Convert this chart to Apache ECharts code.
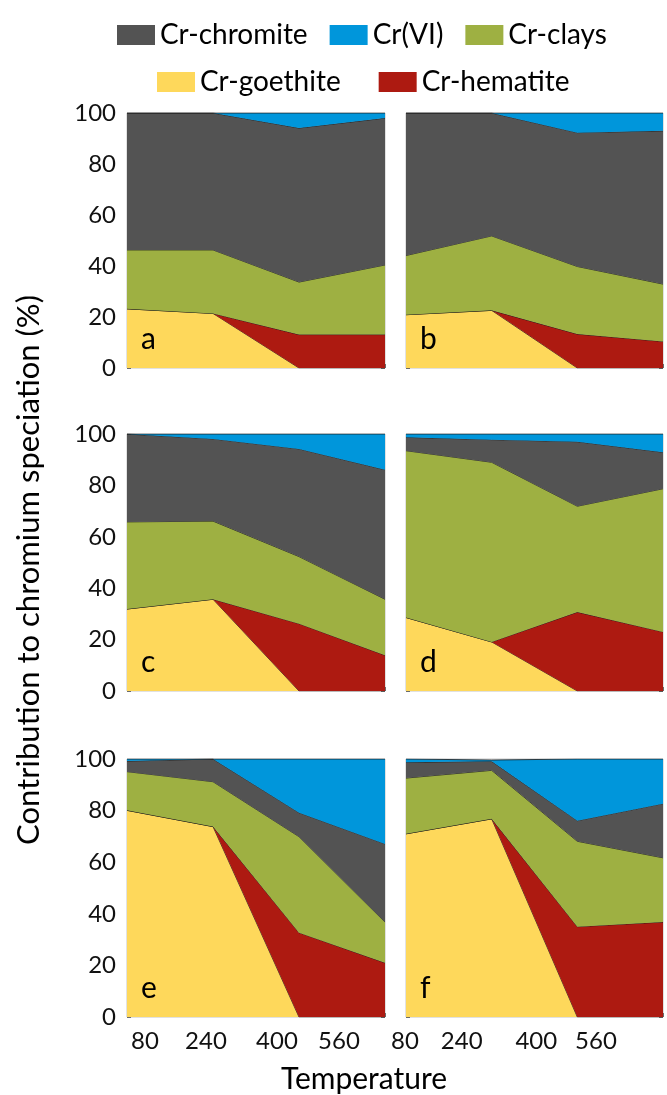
<!DOCTYPE html>
<html><head><meta charset="utf-8">
<script src="https://cdn.jsdelivr.net/npm/echarts@6/dist/echarts.min.js"></script>
<style>html,body{margin:0;padding:0;background:#fff}#c{width:667px;height:1095px}</style>
</head><body><div id="c"></div>
<script>
// ---- data ----
const temperatures = [80, 240, 400, 560];
const panelLabels = ['a', 'b', 'c', 'd', 'e', 'f'];
const yTickValues = [0, 20, 40, 60, 80, 100];
const xAxisTitle = 'Temperature';
const yAxisTitle = 'Contribution to chromium speciation (%)';

// each array: one row per panel (a..f), values at 80, 240, 400, 560
const crGoethite = [
  [23.2, 21.4, 0, 0],
  [20.9, 22.6, 0, 0],
  [31.9, 35.7, 0, 0],
  [28.6, 19.1, 0, 0],
  [80.1, 73.8, 0, 0],
  [71.0, 76.8, 0, 0]
];
const crHematite = [
  [0, 0, 13.1, 13.1],
  [0, 0, 13.3, 10.4],
  [0, 0, 26.2, 13.9],
  [0, 0, 30.7, 23.0],
  [0, 0, 32.7, 21.0],
  [0, 0, 35.0, 36.8]
];
const crClays = [
  [23.1, 24.9, 20.6, 27.3],
  [23.2, 29.2, 26.5, 22.5],
  [33.9, 30.4, 26.1, 21.8],
  [64.9, 69.9, 41.2, 55.7],
  [15.0, 17.4, 37.2, 15.8],
  [21.6, 18.8, 33.1, 24.9]
];
const crChromite = [
  [53.7, 53.7, 60.4, 57.6],
  [55.9, 48.2, 52.5, 60.1],
  [34.2, 32.0, 41.9, 50.4],
  [5.2, 8.8, 25.1, 14.2],
  [4.1, 8.8, 9.3, 30.3],
  [6.1, 3.5, 8.0, 21.0]
];
const crVI = [
  [0, 0, 5.9, 2.0],
  [0, 0, 7.7, 7.0],
  [0, 1.9, 5.8, 13.9],
  [1.3, 2.2, 3.0, 7.1],
  [0.8, 0, 20.8, 32.9],
  [1.3, 0.5, 23.9, 17.3]
];

// ---- styling ----
const FONT = 'Lato';
const seriesDefs = [
  { name: 'Cr-goethite', data: crGoethite, color: '#FED85B' },
  { name: 'Cr-hematite', data: crHematite, color: '#AD1A11' },
  { name: 'Cr-clays', data: crClays, color: '#9EB042' },
  { name: 'Cr-chromite', data: crChromite, color: '#535353' },
  { name: 'Cr(VI)', data: crVI, color: '#0096DB' }
];
const colorOf = {};
seriesDefs.forEach(s => colorOf[s.name] = s.color);

const gridLeft = [127, 406];
const gridWidth = [258, 257];
const gridTop = [113, 434, 759];
const gridHeight = [255, 257, 258];
// horizontal shift (px) of each x tick label, per column
const labelShift = [[18, -7, -22, -46], [-1, -30, -41, -67]];

const grids = [], xAxes = [], yAxes = [], series = [], graphics = [];
for (let k = 0; k < 6; k++) {
  const col = k % 2, row = Math.floor(k / 2);
  grids.push({
    left: gridLeft[col], top: gridTop[row], width: gridWidth[col], height: gridHeight[row],
    show: true, borderColor: '#c4c4c4', borderWidth: 1, backgroundColor: 'transparent'
  });
  const rich = {};
  labelShift[col].forEach((s, i) => {
    rich['s' + i] = {
      fontFamily: FONT, fontSize: 24, color: '#111',
      padding: s >= 0 ? [0, 0, 0, 2 * s] : [0, -2 * s, 0, 0]
    };
  });
  const tickStyle = { show: true, inside: true, length: 4, lineStyle: { color: '#6a6a6a', width: 1 } };
  // bottom: value axis used for ticks and temperature labels
  xAxes.push({
    type: 'value', gridIndex: k, min: 80, max: 560, interval: 80, position: 'bottom',
    axisLine: { show: false }, splitLine: { show: false }, axisTick: tickStyle,
    axisLabel: {
      show: row === 2, margin: 12, color: '#111', fontFamily: FONT, fontSize: 24,
      showMinLabel: true, showMaxLabel: true, hideOverlap: false,
      formatter: v => { const i = temperatures.indexOf(v); return i < 0 ? '' : '{s' + i + '|' + v + '}'; },
      rich: rich
    }
  });
  // top: category axis carrying the data
  xAxes.push({
    type: 'category', gridIndex: k, position: 'top', boundaryGap: false,
    data: temperatures.map(String),
    axisLine: { show: false }, splitLine: { show: false },
    axisTick: { show: false }, axisLabel: { show: false }
  });
  yAxes.push({
    type: 'value', gridIndex: k, min: 0, max: 100, interval: 20, position: 'left',
    axisLine: { show: false }, splitLine: { show: false }, axisTick: tickStyle,
    axisLabel: {
      show: col === 0, margin: 11, color: '#111', fontFamily: FONT, fontSize: 24,
      formatter: v => yTickValues.includes(v) ? String(v) : ''
    }
  });
  yAxes.push({
    type: 'value', gridIndex: k, min: 0, max: 100, interval: 20, position: 'right',
    axisLine: { show: false }, splitLine: { show: false }, axisTick: tickStyle,
    axisLabel: { show: false }
  });
  seriesDefs.forEach((s, si) => {
    series.push({
      name: s.name, type: 'line', stack: 'panel' + k,
      xAxisIndex: 2 * k + 1, yAxisIndex: 2 * k,
      symbol: 'none', smooth: false, z: 2 + si,
      itemStyle: { color: s.color },
      lineStyle: { color: 'rgba(25,25,25,0.8)', width: 1 },
      areaStyle: { color: s.color, opacity: 1 },
      data: s.data[k]
    });
  });
  graphics.push({
    type: 'text', left: gridLeft[col] + 14, top: gridTop[row] + gridHeight[row] - 44, z: 100,
    style: { text: panelLabels[k], font: '30px ' + FONT, fill: '#000' }
  });
}

graphics.push({
  type: 'text', x: 364, y: 1079, z: 100,
  style: { text: xAxisTitle, font: '30px ' + FONT, fill: '#000', textAlign: 'center', textVerticalAlign: 'middle' }
});
graphics.push({
  type: 'text', x: 29, y: 570, rotation: Math.PI / 2, z: 100,
  style: { text: yAxisTitle, font: '31px ' + FONT, fill: '#000', textAlign: 'center', textVerticalAlign: 'middle' }
});

const legendCommon = {
  icon: 'rect', itemWidth: 38, itemHeight: 20, orient: 'horizontal', padding: 0,
  textStyle: { fontFamily: FONT, fontSize: 28, color: '#000' }, selectedMode: false
};
const legendItem = n => ({ name: n, itemStyle: { color: colorOf[n], borderWidth: 0 } });

const chart = echarts.init(document.getElementById('c'), null, { renderer: 'canvas' });
chart.setOption({
  animation: false,
  backgroundColor: '#fff',
  legend: [
    Object.assign({}, legendCommon, { left: 117, top: 21, itemGap: 22, data: ['Cr-chromite', 'Cr(VI)', 'Cr-clays'].map(legendItem) }),
    Object.assign({}, legendCommon, { left: 157, top: 68, itemGap: 38, data: ['Cr-goethite', 'Cr-hematite'].map(legendItem) })
  ],
  grid: grids,
  xAxis: xAxes,
  yAxis: yAxes,
  series: series,
  graphic: graphics
});
</script></body></html>
